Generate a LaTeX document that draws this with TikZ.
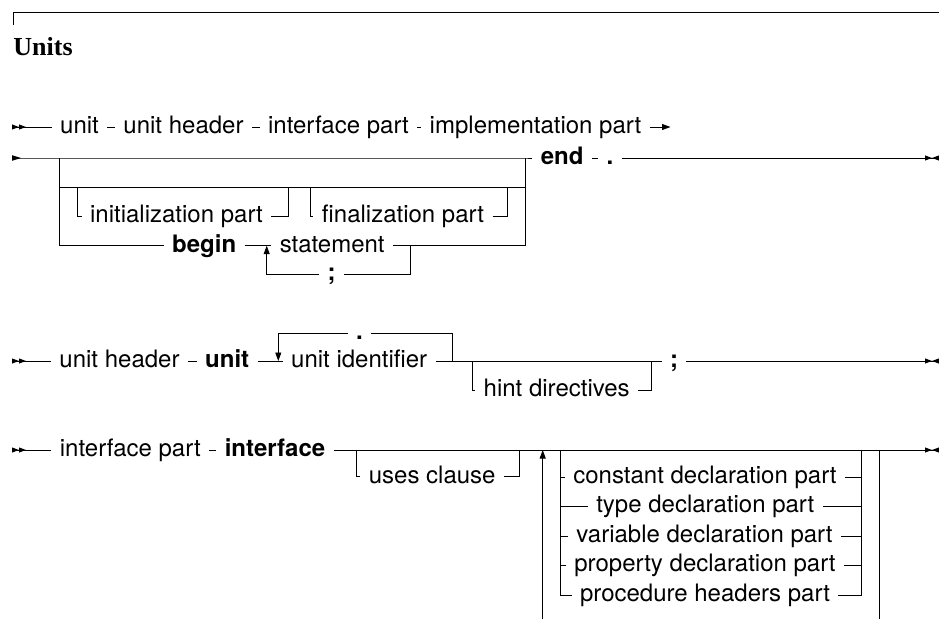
\documentclass[tikz,border=0pt]{standalone}
\usepackage{fontspec}
\setmainfont{TeX Gyre Heros}
\newfontfamily\titlefont{Liberation Serif}
\usetikzlibrary{arrows.meta}
\newcommand\dgfont{\fontsize{24}{28}\selectfont}
\tikzset{
  every path/.style={line width=0.9pt},
  txt/.style={inner xsep=8pt, inner ysep=0pt, text height=18pt, text depth=5.4pt, font=\dgfont},
  kw/.style={txt, font=\dgfont\bfseries},
  tipA/.style={-{Triangle[length=8.5pt,width=6pt]}},
  rtri/.pic={\fill (0,-2.6) -- (7,0) -- (0,2.6) -- cycle;},
  rtril/.pic={\fill (0,-2.8) -- (9,0) -- (0,2.8) -- cycle;},
}
\begin{document}
\begin{tikzpicture}[x=1pt,y=-1pt]
\useasboundingbox (0,0) rectangle (939,619);
% title
\draw (13,25) -- (13,12.5) -- (939,12.5);
\node[anchor=base west, inner sep=0pt, font=\titlefont\bfseries\fontsize{26}{30}\selectfont] (title) at (13,55) {Units};

% ---------- row 1
\coordinate (r1s) at (12,127);
\node[txt] (r1a) at (79.5,127) {unit};
\node[txt] (r1b) at (183.5,127) {unit header};
\node[txt] (r1c) at (338.5,127) {interface part};
\node[txt] (r1d) at (535.5,127) {implementation part};
\coordinate (r1e) at (670.5,127);
\pic at (r1s) {rtri};
\pic[shift={(7,0)}] at (r1s) {rtri};
\draw (r1s) -- (r1a);
\draw (r1a) -- (r1b);
\draw (r1b) -- (r1c);
\draw (r1c) -- (r1d);
\draw[tipA] (r1d) -- (r1e);

% ---------- row 2
\coordinate (r2s) at (12,158);
\coordinate (j1) at (59,158);
\coordinate (j2) at (525,158);
\coordinate (b1) at (59,187);
\coordinate (b2) at (525,187);
\coordinate (c1) at (59,245.7);
\coordinate (c2) at (525,245.7);
\node[kw] (endkw) at (562.2,158) {end};
\node[kw] (dot1) at (610,158) {.};
\coordinate (r2e) at (939,158);
\pic at (r2s) {rtril};
\draw (r2s) -- (j2) -- (endkw);
\draw (endkw) -- (dot1);
\draw (dot1) -- (r2e);
\pic at (925,158) {rtri};
\pic[xscale=-1] at (939,158) {rtri};
\draw (j1) -- (c1);
\draw (j2) -- (c2);
\draw (b1) -- (b2);
% init / final
\coordinate (i1) at (77.3,187);
\coordinate (i2) at (288.3,187);
\node[txt] (init) at (176.5,216.5) {initialization part};
\draw (i1) -- (i1 |- init) -- (init);
\draw (init) -- (i2 |- init) -- (i2);
\coordinate (f1) at (310.7,187);
\coordinate (f2) at (507.7,187);
\node[txt] (final) at (403,216.5) {finalization part};
\draw (f1) -- (f1 |- final) -- (final);
\draw (final) -- (f2 |- final) -- (f2);
% begin statement
\node[kw] (begin) at (204.2,245.7) {begin};
\node[txt] (stmt) at (332.2,245.7) {statement};
\node[kw] (semi1) at (331.7,274.3) {;};
\coordinate (l1) at (266.7,245.7);
\coordinate (l1b) at (266.7,274.3);
\coordinate (l2) at (410,245.7);
\coordinate (l2b) at (410,274.3);
\draw (c1) -- (begin);
\draw (begin) -- (stmt);
\draw (stmt) -- (c2);
\draw (l2) -- (l2b) -- (semi1);
\draw[tipA] (semi1) -- (l1b) -- (l1);

% ---------- row 3
\coordinate (r3s) at (12,361);
\node[txt] (uh) at (119.5,361) {unit header};
\node[kw] (unitkw) at (227.2,361) {unit};
\node[txt] (uid) at (359.2,361) {unit identifier};
\node[kw] (dot2) at (359.5,333.3) {.};
\coordinate (u1) at (278.3,361);
\coordinate (u1t) at (278.3,333.3);
\coordinate (u2) at (452.3,361);
\coordinate (u2t) at (452.3,333.3);
\coordinate (h1) at (472.7,361);
\coordinate (h2) at (651.7,361);
\node[txt] (hint) at (556.7,390) {hint directives};
\node[kw] (semi2) at (674,361) {;};
\coordinate (r3e) at (939,361);
\pic at (r3s) {rtri};
\pic[shift={(7,0)}] at (r3s) {rtri};
\draw (r3s) -- (uh);
\draw (uh) -- (unitkw);
\draw (unitkw) -- (uid);
\draw (uid) -- (semi2);
\draw (u2) -- (u2t) -- (dot2);
\draw[tipA] (dot2) -- (u1t) -- (u1);
\draw (h1) -- (h1 |- hint) -- (hint);
\draw (hint) -- (h2 |- hint) -- (h2);
\draw (semi2) -- (r3e);
\pic at (925,361) {rtri};
\pic[xscale=-1] at (939,361) {rtri};

% ---------- row 4
\coordinate (r4s) at (12,450);
\node[txt] (ip) at (130.3,450) {interface part};
\node[kw] (ifkw) at (275,450) {interface};
\coordinate (uc1) at (356,450);
\coordinate (uc2) at (519.3,450);
\node[txt] (uses) at (432.2,476.7) {uses clause};
\coordinate (lp1) at (542.7,450);
\coordinate (lp1b) at (542.7,619);
\coordinate (bx1) at (560.7,450);
\coordinate (bx2) at (861.7,450);
\coordinate (lp2) at (879.3,450);
\coordinate (lp2b) at (879.3,619);
\coordinate (r4e) at (939,450);
\pic at (r4s) {rtri};
\pic[shift={(7,0)}] at (r4s) {rtri};
\draw (r4s) -- (ip);
\draw (ip) -- (ifkw);
\draw (ifkw) -- (r4e);
\pic at (925,450) {rtri};
\pic[xscale=-1] at (939,450) {rtri};
\draw (uc1) -- (uc1 |- uses) -- (uses);
\draw (uses) -- (uc2 |- uses) -- (uc2);
\draw[tipA] (lp1b) -- (lp1);
\draw (lp2) -- (lp2b);
\node[txt] (dconst) at (705,477) {constant declaration part};
\node[txt] (dtype) at (705.3,506.5) {type declaration part};
\node[txt] (dvar) at (704.5,536) {variable declaration part};
\node[txt] (dprop) at (705,565.5) {property declaration part};
\node[txt] (dproc) at (705,595) {procedure headers part};
\draw (bx1) -- (bx1 |- dproc) -- (dproc);
\draw (dproc) -- (bx2 |- dproc) -- (bx2);
\foreach \n in {dconst,dtype,dvar,dprop}{
  \draw (bx1 |- \n) -- (\n);
  \draw (\n) -- (bx2 |- \n);
}
\end{tikzpicture}
\end{document}
